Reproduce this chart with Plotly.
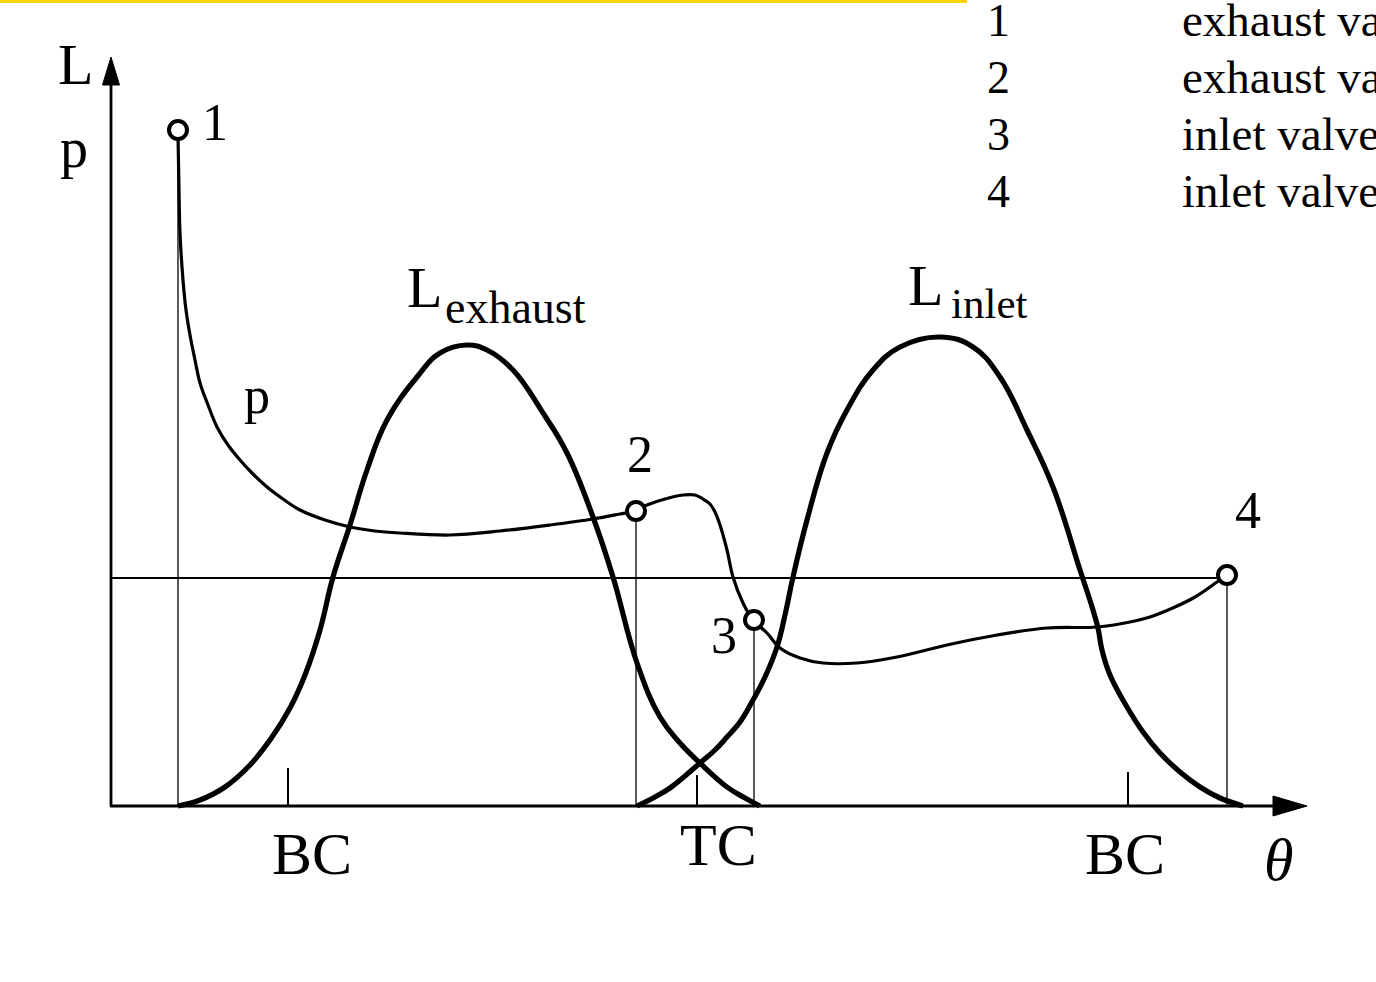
import plotly.graph_objects as go

# ---------------- data (theta in picture units, value = height above theta axis) ----------------
p_theta = [178, 179, 180, 183, 186, 190, 195, 200, 208, 217, 228, 240, 253, 267, 283, 300, 325, 350,
           375, 400, 450, 500, 550, 593, 620, 635, 647, 665, 683, 695, 703, 710, 715, 720, 727, 733,
           743, 753, 767, 780, 800, 823, 857, 897, 947, 997, 1047, 1097, 1130, 1150, 1175, 1195, 1217, 1227]
p_vals = [671, 616, 573, 526, 496, 471, 446, 423, 401, 379, 361, 346, 332, 319, 307, 296, 286, 279,
          275, 273, 271, 275, 281, 287, 292, 295, 301, 307, 311, 311, 307, 302, 294, 281, 256, 229,
          203, 186, 173, 158, 148, 143, 143, 149, 161, 171, 178, 179, 184, 189, 199, 209, 224, 231]

lexh_theta = [178, 200, 225, 250, 270, 290, 305, 320, 333, 350, 367, 387, 417, 440, 467, 487, 513,
              543, 567, 593, 613, 637, 660, 680, 700, 727, 745, 760]
lexh_vals = [0, 6, 19, 41, 66, 98, 131, 176, 229, 281, 336, 386, 429, 453, 461, 456, 436,
             393, 353, 289, 229, 143, 89, 63, 43, 19, 8, 0]

linl_theta = [637, 655, 670, 685, 700, 715, 727, 740, 753, 765, 777, 785, 793, 807, 827, 847, 873, 900,
              940, 973, 1000, 1027, 1053, 1080, 1093, 1098, 1102, 1110, 1127, 1143, 1160, 1180, 1200, 1220, 1243]
linl_vals = [0, 9, 18, 30, 43, 56, 69, 84, 106, 129, 159, 191, 229, 286, 353, 396, 436, 459,
             469, 459, 429, 376, 319, 236, 196, 178, 156, 131, 99, 74, 53, 34, 19, 8, 0]

event_theta = [178, 636, 754, 1227]
event_p = [676, 295, 186, 231]
event_labels = ["1", "2", "3", "4"]

p_ambient = 228
tick_theta = [288, 697, 1128]
tick_labels = ["BC", "TC", "BC"]

legend_nums = ["1", "2", "3", "4"]
legend_texts = ["exhaust valve opens", "exhaust valve closes", "inlet valve opens", "inlet valve closes"]

# ---------------- figure ----------------
W, H = 1376, 982
BASE = 806            # picture row of the theta axis
X0 = 111              # picture column of the vertical axis
SERIF = "Liberation Serif, Times New Roman, serif"


def v(row):           # picture row -> value
    return BASE - row


fig = go.Figure()

# thin vertical event lines
for t, pv in zip(event_theta, event_p):
    fig.add_trace(go.Scatter(x=[t, t], y=[0, pv], mode="lines",
                             line=dict(color="black", width=1.3), hoverinfo="skip"))

# ambient pressure line
fig.add_trace(go.Scatter(x=[X0, event_theta[-1]], y=[p_ambient, p_ambient], mode="lines",
                         line=dict(color="black", width=2.2), hoverinfo="skip"))

# lift curves
fig.add_trace(go.Scatter(x=lexh_theta, y=lexh_vals, mode="lines",
                         line=dict(color="black", width=5.2, shape="spline", smoothing=1.2)))
fig.add_trace(go.Scatter(x=linl_theta, y=linl_vals, mode="lines",
                         line=dict(color="black", width=5.2, shape="spline", smoothing=1.2)))
# pressure curve
fig.add_trace(go.Scatter(x=p_theta, y=p_vals, mode="lines",
                         line=dict(color="black", width=3.2, shape="spline", smoothing=1.0)))

# event markers
fig.add_trace(go.Scatter(x=event_theta, y=event_p, mode="markers",
                         marker=dict(symbol="circle", size=18, color="white",
                                     line=dict(color="black", width=4))))

shapes = []
# axes
shapes.append(dict(type="line", x0=X0, x1=X0, y0=0, y1=v(84), line=dict(color="black", width=2.8)))
shapes.append(dict(type="line", x0=X0 - 1, x1=1276, y0=0, y1=0, line=dict(color="black", width=3)))
# arrowheads
shapes.append(dict(type="path", path=f"M {X0-8.5},{v(85)} L {X0},{v(57)} L {X0+8.5},{v(85)} Z",
                   fillcolor="black", line=dict(color="black", width=1)))
shapes.append(dict(type="path", path="M 1273,10 L 1307,0 L 1273,-10 Z",
                   fillcolor="black", line=dict(color="black", width=1)))
# BC / TC ticks
tick_len = [38, 31, 34]
for t, tl in zip(tick_theta, tick_len):
    shapes.append(dict(type="line", x0=t, x1=t, y0=0, y1=tl, line=dict(color="black", width=2)))
# yellow rule at top
shapes.append(dict(type="line", x0=0, x1=967, y0=v(1.5), y1=v(1.5), line=dict(color="#FFD200", width=3)))

ann = []


def txt(x, y, s, size, anchor="center", italic=False):
    ann.append(dict(x=x, y=y, text=s, showarrow=False, xanchor=anchor, yanchor="middle",
                    font=dict(family=SERIF, size=size, color="black",
                              style="italic" if italic else "normal")))


# axis labels
txt(75, v(64), "L", 58)
txt(74, v(148), "p", 56)
txt(1278, v(860), "θ", 60, italic=True)
# tick labels
txt(312, v(854), tick_labels[0], 60)
txt(718, v(845), tick_labels[1], 60)
txt(1125, v(854), tick_labels[2], 60)
# curve labels
txt(257, v(395), "p", 52)
txt(424, v(287), "L", 58)
txt(443, v(307), "exhaust", 46, anchor="left")
txt(925, v(285), "L", 58)
txt(949, v(303), "inlet", 43, anchor="left")
# event labels
txt(215, v(122), event_labels[0], 52)
txt(640, v(454), event_labels[1], 52)
txt(724, v(635), event_labels[2], 52)
txt(1248, v(510), event_labels[3], 52)
# legend list (top right)
rows = [20, 77, 134, 191]
for r, n, s in zip(rows, legend_nums, legend_texts):
    txt(998, v(r), n, 46)
    txt(1180, v(r), s, 47, anchor="left")

fig.update_layout(
    width=W, height=H,
    margin=dict(l=0, r=0, t=0, b=0),
    paper_bgcolor="white", plot_bgcolor="white",
    showlegend=False,
    xaxis=dict(range=[0, W], visible=False, fixedrange=True),
    yaxis=dict(range=[v(H), v(0)], visible=False, fixedrange=True),
    shapes=shapes,
    annotations=ann,
)

fig.write_html("out.html", config={"displayModeBar": False},
               post_script="document.body.style.margin='0';document.documentElement.style.overflow='hidden';")
